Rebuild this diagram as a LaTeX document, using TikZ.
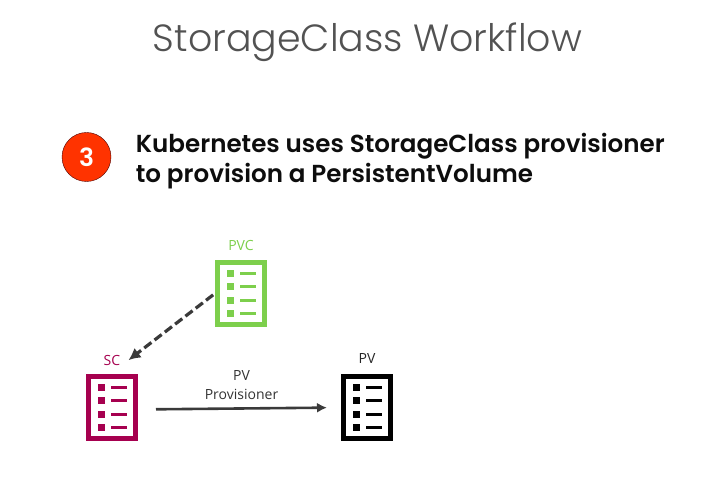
\documentclass[tikz,border=0pt]{standalone}
\usepackage{fontspec}
\setmainfont{Poppins}
\newfontfamily\titlefont{Poppins Light}
\newfontfamily\headfont{Poppins SemiBold}
\newfontfamily\labelfont{Open Sans}
\usetikzlibrary{arrows.meta, positioning}
\definecolor{pvcgreen}{HTML}{7DCF4C}
\definecolor{scred}{HTML}{A6004F}
\definecolor{badgered}{HTML}{FF3300}
\definecolor{arrowgrey}{HTML}{3A3A3A}
\tikzset{
  docbox/.style={draw=#1, line width=5pt, minimum width=47pt, minimum height=62pt, inner sep=0pt, outer sep=0pt},
  doclabel/.style={font=\labelfont\fontsize{14}{19}\selectfont, inner sep=0pt},
  flowarrow/.style={draw=arrowgrey, line width=2.6pt, -{Latex[length=10pt,width=10pt]}},
}
% four rows of bullet and bar inside an icon
\newcommand{\docrows}[2]{
  \foreach \rowy in {-20,-6.7,6.7,20} {
    \fill[#2] ([shift={(-14.5,\rowy-3.5)}]#1.center) rectangle ++(7,7);
    \fill[#2] ([shift={(-1,\rowy-1.5)}]#1.center) rectangle ++(16,3);
  }
}

\begin{document}
\begin{tikzpicture}[x=1pt, y=1pt]
\useasboundingbox (0,0) rectangle (712,497);

\node[font=\titlefont\fontsize{37.9}{42}\selectfont, text=black!68] (title) at (367.5,455) {StorageClass Workflow};

\node[circle, draw=black!70!red, fill=badgered, minimum size=49pt, inner sep=0pt, text=white, font=\headfont\fontsize{25}{28}\selectfont] (badge) at (86.5,340) {3};
\node[right=24.5pt of badge.east, yshift=-4pt, anchor=west, align=left, font=\headfont\fontsize{24.6}{30}\selectfont, text=black!95, inner sep=0pt] (headline) {Kubernetes uses StorageClass provisioner\\to provision a PersistentVolume};

\node[docbox=pvcgreen] (pvc) at (241,203.5) {};
\node[docbox=scred] (sc) at (112,89.5) {};
\node[docbox=black] (pv) at (367,89.5) {};
\docrows{pvc}{pvcgreen}
\docrows{sc}{scred}
\docrows{pv}{black}

\node[doclabel, text=pvcgreen, above=12pt of pvc] (pvclabel) {PVC};
\node[doclabel, text=scred, above=11pt of sc] (sclabel) {SC};
\node[doclabel, text=black!85, above=13pt of pv] (pvlabel) {PV};

\draw[flowarrow, line width=3.2pt, -{Latex[length=12pt,width=12pt]}, dash pattern=on 9pt off 4pt, shorten <=5.5pt] ([yshift=2pt]pvc.west) -- ([xshift=8pt]sclabel.east);
\draw[flowarrow, shorten <=20.5pt, shorten >=16.5pt] ([yshift=-2pt]sc.east) -- node[above=8pt, xshift=2pt, doclabel, align=center, text=black!80] (provlabel) {PV\\Provisioner} (pv.west);
\end{tikzpicture}
\end{document}
